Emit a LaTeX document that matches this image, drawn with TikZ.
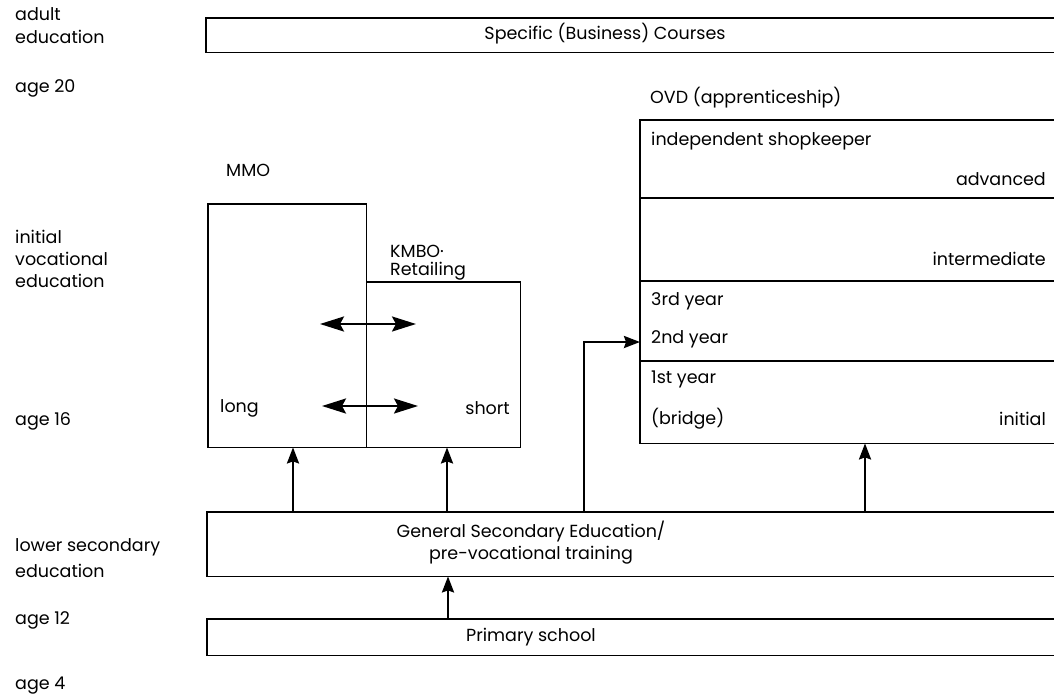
\documentclass[tikz,border=0pt]{standalone}
\usepackage{fontspec}
\setmainfont{Poppins}
\usetikzlibrary{arrows.meta}
\begin{document}
\begin{tikzpicture}[x=1pt,y=-1pt,
  txt/.style={inner sep=0pt, font=\fontsize{17.5}{20}\selectfont},
  lbl/.style={txt, anchor=west},
  rlbl/.style={txt, anchor=east},
  area/.style={draw=none, inner sep=0pt, anchor=north west},
  frame/.style={line width=1.5pt},
  arr/.style={line width=2.4pt, -{Stealth[length=16pt,width=12pt,inset=2pt]}},
  darr/.style={line width=2.4pt, {Stealth[length=24pt,width=15pt,inset=4pt]}-{Stealth[length=24pt,width=15pt,inset=4pt]}}]
\useasboundingbox (0,0) rectangle (1054,697);
% left labels
\node[lbl] (l1) at (15,14) {adult};
\node[lbl] (l2) at (15,37) {education};
\node[lbl] (l3) at (15,88) {age 20};
\node[lbl] (l4) at (15,237) {initial};
\node[lbl] (l5) at (15,259) {vocational};
\node[lbl] (l6) at (15,281) {education};
\node[lbl] (l7) at (15,421) {age 16};
\node[lbl] (l8) at (15,547) {lower secondary};
\node[lbl] (l9) at (15,571) {education};
\node[lbl] (l10) at (15,620) {age 12};
\node[lbl] (l11) at (15,686) {age 4};
% adult box
\node[area, minimum width=848pt, minimum height=34pt] (adult) at (206,18) {};
\draw[frame] (adult.north east) -- (adult.north west) -- (adult.south west) -- (adult.south east);
\node[txt] (adulttxt) at (605,34) {Specific (Business) Courses};
% MMO
\node[lbl] (mmolbl) at (226,170) {MMO};
\node[area, minimum width=158pt, minimum height=243pt] (mmo) at (208,204) {};
\draw[frame] (mmo.north east) -- (mmo.north west) -- (mmo.south west) -- (mmo.south east) -- cycle;
\node[lbl] (long) at (220,408) {long};
% KMBO
\node[lbl] (kmbolbl1) at (390,251) {KMBO·};
\node[lbl] (kmbolbl2) at (390,271) {Retailing};
\node[area, minimum width=154pt, minimum height=165pt] (kmbo) at (366,282) {};
\draw[frame] (kmbo.north west) -- (kmbo.north east) -- (kmbo.south east) -- (kmbo.south west);
\node[rlbl] (short) at (510,408) {short};
\coordinate (d1a) at (320,324);
\coordinate (d1b) at (416,324);
\coordinate (d2a) at (322,406);
\coordinate (d2b) at (418,406);
\draw[darr] (d1a) -- (d1b);
\draw[darr] (d2a) -- (d2b);
% OVD
\node[lbl] (ovdlbl) at (650,98) {OVD (apprenticeship)};
\node[area, minimum width=414pt, minimum height=323pt] (ovd) at (640,120) {};
\draw[frame] (ovd.north east) -- (ovd.north west) -- (ovd.south west) -- (ovd.south east);
\draw[frame] (ovd.west |- 0,198) -- (ovd.east |- 0,198);
\draw[frame] (ovd.west |- 0,281) -- (ovd.east |- 0,281);
\draw[frame] (ovd.west |- 0,361) -- (ovd.east |- 0,361);
\node[lbl] (o1) at (651,141) {independent shopkeeper};
\node[rlbl] (o2) at (1046,179) {advanced};
\node[rlbl] (o3) at (1046,259) {intermediate};
\node[lbl] (o4) at (651,301) {3rd year};
\node[lbl] (o5) at (651,339) {2nd year};
\node[lbl] (o6) at (651,379) {1st year};
\node[lbl] (o7) at (651,419) {(bridge)};
\node[rlbl] (o8) at (1046,419) {initial};
% General secondary
\node[area, minimum width=847pt, minimum height=64pt] (gse) at (207,512) {};
\draw[frame] (gse.north east) -- (gse.north west) -- (gse.south west) -- (gse.south east);
\node[txt] (gse1) at (531,532) {General Secondary Education/};
\node[txt] (gse2) at (531,555) {pre-vocational training};
% Primary
\node[area, minimum width=847pt, minimum height=36pt] (prim) at (207,619) {};
\draw[frame] (prim.north east) -- (prim.north west) -- (prim.south west) -- (prim.south east);
\node[txt] (primtxt) at (531,637) {Primary school};
% arrows
\draw[arr] (prim.north -| 448,0) -- (gse.south -| 448,0);
\draw[arr] (gse.north -| 293,0) -- (mmo.south -| 293,0);
\draw[arr] (gse.north -| 447,0) -- (kmbo.south -| 447,0);
\draw[arr] (gse.north -| 865,0) -- (ovd.south -| 865,0);
\draw[arr] (gse.north -| 584,0) |- (ovd.west |- 0,342);
\end{tikzpicture}
\end{document}
